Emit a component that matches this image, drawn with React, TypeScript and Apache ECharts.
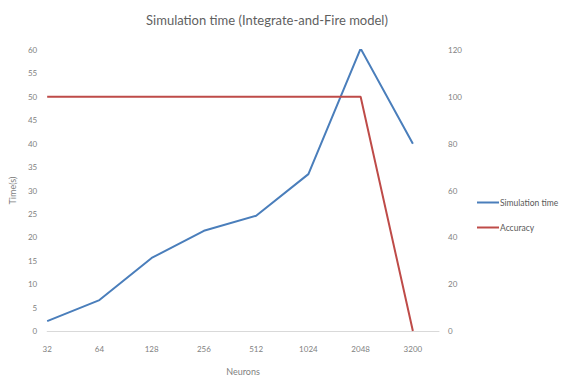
import React, { useEffect, useRef } from "react";
import * as echarts from "echarts";

const neurons = ["32", "64", "128", "256", "512", "1024", "2048", "3200"];
const simulationTime = [2.1, 6.6, 15.6, 21.4, 24.6, 33.5, 60.3, 40];
const accuracy = [100, 100, 100, 100, 100, 100, 100, 0];

const FONT = "Lato, 'Open Sans', sans-serif";
const LABEL = "#7f7f7f";

export default function App() {
  const ref = useRef<HTMLDivElement>(null);

  useEffect(() => {
    if (!ref.current) return;
    const chart = echarts.init(ref.current, undefined, { renderer: "svg" });
    chart.setOption({
      animation: false,
      textStyle: { fontFamily: FONT },
      title: {
        text: "Simulation time (Integrate-and-Fire model)",
        left: 262,
        top: 8,
        textAlign: "center",
        textStyle: { fontFamily: FONT, fontSize: 13, fontWeight: "normal", color: "#5f5f5f" },
      },
      legend: {
        orient: "vertical",
        left: 477,
        top: 198,
        padding: 0,
        itemGap: 16,
        itemWidth: 22,
        itemHeight: 2,
        icon: "rect",
        textStyle: { fontFamily: FONT, fontSize: 8.5, color: "#595959", padding: [0, 0, 0, -4] },
        data: ["Simulation time", "Accuracy"],
      },
      grid: { left: 43, right: 126, top: 50, bottom: 52 },
      xAxis: {
        type: "value",
        min: 0,
        max: 7.5,
        interval: 1,
        name: "Neurons",
        nameLocation: "middle",
        nameGap: 36,
        nameTextStyle: { fontFamily: FONT, fontSize: 9, color: LABEL },
        axisLine: { show: true, lineStyle: { color: "#d9d9d9", width: 1 } },
        axisTick: { show: false },
        splitLine: { show: false },
        axisLabel: {
          fontFamily: FONT,
          fontSize: 8,
          color: LABEL,
          margin: 14,
          showMaxLabel: false,
          formatter: (v: number) => (Number.isInteger(v) && neurons[v] !== undefined ? neurons[v] : ""),
        },
      },
      yAxis: [
        {
          type: "value",
          min: 0,
          max: 60,
          interval: 5,
          name: "Time(s)",
          nameLocation: "middle",
          nameGap: 26,
          nameTextStyle: { fontFamily: FONT, fontSize: 9, color: LABEL },
          axisLine: { show: false },
          axisTick: { show: false },
          splitLine: { show: false },
          axisLabel: { fontFamily: FONT, fontSize: 8, color: LABEL, margin: 10 },
        },
        {
          type: "value",
          min: 0,
          max: 120,
          interval: 20,
          position: "right",
          axisLine: { show: false },
          axisTick: { show: false },
          splitLine: { show: false },
          axisLabel: { fontFamily: FONT, fontSize: 8, color: LABEL, margin: 9 },
        },
      ],
      series: [
        {
          name: "Simulation time",
          type: "line",
          yAxisIndex: 0,
          data: simulationTime.map((v, i) => [i, v]),
          showSymbol: false,
          lineStyle: { color: "#4a7ebb", width: 2 },
          itemStyle: { color: "#4a7ebb" },
        },
        {
          name: "Accuracy",
          type: "line",
          yAxisIndex: 1,
          data: accuracy.map((v, i) => [i, v]),
          showSymbol: false,
          lineStyle: { color: "#be4b48", width: 2 },
          itemStyle: { color: "#be4b48" },
        },
      ],
    });
    return () => chart.dispose();
  }, []);

  return <div ref={ref} style={{ width: 565, height: 383, position: "absolute", left: 0, top: 0 }} />;
}
